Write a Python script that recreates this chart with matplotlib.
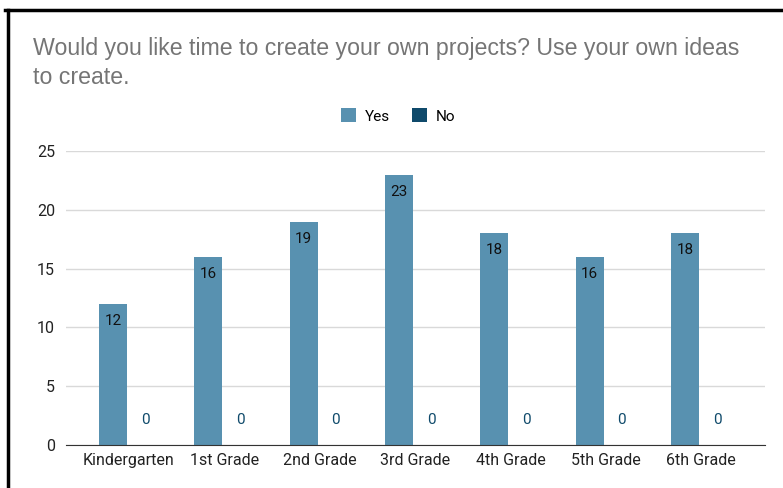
import numpy as np
import matplotlib.pyplot as plt
from matplotlib.lines import Line2D

# survey answers per grade
grades = ['Kindergarten', '1st Grade', '2nd Grade', '3rd Grade',
          '4th Grade', '5th Grade', '6th Grade']
yes_counts = [12, 16, 19, 23, 18, 16, 18]
no_counts = [0, 0, 0, 0, 0, 0, 0]

yes_col = '#5891b0'
no_col = '#0f4a6b'

plt.rcParams['font.family'] = ['Roboto', 'DejaVu Sans']

fig = plt.figure(figsize=(7.83, 4.88), dpi=100)
ax = fig.add_axes([66/783, 1 - 445/488, (765-66)/783, (445-151)/488])

x = np.arange(len(grades))
off = 0.168
w = 0.295
b1 = ax.bar(x - off, yes_counts, w, color=yes_col, label='Yes', zorder=3)
b2 = ax.bar(x + off, no_counts, w, color=no_col, label='No', zorder=3)

for rect, v in zip(b1, yes_counts):
    ax.text(rect.get_x() + rect.get_width()/2, v - 1.45, str(v),
            ha='center', va='center', fontsize=11, color='#111111', zorder=4)
for rect, v in zip(b2, no_counts):
    ax.text(rect.get_x() + rect.get_width()/2, v + 2.1, str(v),
            ha='center', va='center', fontsize=11, color=no_col, zorder=4)

ax.set_xlim(-0.66, 6.67)
ax.set_ylim(0, 25)
ax.set_yticks([0, 5, 10, 15, 20, 25])
ax.set_xticks(x)
ax.set_xticklabels(grades)
ax.tick_params(axis='both', length=0, labelsize=11.5, colors='#222222')
ax.tick_params(axis='y', pad=8)
ax.tick_params(axis='x', pad=6)
ax.yaxis.grid(True, color='#d9d9d9', linewidth=1, zorder=0)
for s in ['top', 'right', 'left']:
    ax.spines[s].set_visible(False)
ax.spines['bottom'].set_color('#333333')
ax.spines['bottom'].set_zorder(5)

fig.text(33/783, 1 - 63/488, 'Would you like time to create your own projects? Use your own ideas\nto create.',
         ha='left', va='center', fontsize=16.7, color='#757575', linespacing=1.3,
         family=['Liberation Sans', 'DejaVu Sans'])

fig.legend(handles=[b1, b2], labels=['Yes', 'No'], loc='center',
           bbox_to_anchor=(398/783, 1 - 116/488), ncol=2, frameon=False,
           fontsize=11, handlelength=1.0, handleheight=1.0, columnspacing=1.4,
           handletextpad=0.6)

# black frame lines at top and left of the screenshot
fig.add_artist(Line2D([5/783, 1], [1 - 10/488, 1 - 10/488], color='black', lw=2.5,
                      transform=fig.transFigure))
fig.add_artist(Line2D([8/783, 8/783], [0, 1 - 10/488], color='black', lw=2.5,
                      transform=fig.transFigure))

fig.savefig('out.png', dpi=100, facecolor='white')
